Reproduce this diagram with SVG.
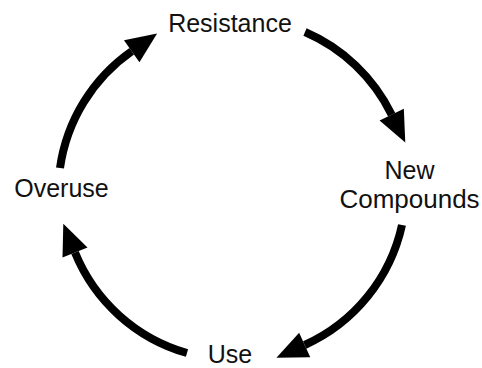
<svg xmlns="http://www.w3.org/2000/svg" width="482" height="368" viewBox="0 0 482 368">
<style>
.lbl{font-family:"Liberation Sans",Arial,Helvetica,sans-serif;font-size:25px;fill:#111;text-anchor:middle}
.arc{fill:none;stroke:#000;stroke-width:8;stroke-linecap:butt;marker-end:url(#head)}
</style>
<defs>
<marker id="head" markerUnits="userSpaceOnUse" viewBox="0 -14 32 28" refX="0" refY="0" markerWidth="32" markerHeight="28" orient="auto" overflow="visible">
<path d="M0,-13.5 L31,0 L0,13.5 Z" fill="#000"/>
</marker>
</defs>
<rect width="482" height="368" fill="#fff"/>
<g id="connectors">
<path class="arc" d="M305,32 A172,172 0 0 1 391.7,114.7"/>
<path class="arc" d="M402,225 A172,172 0 0 1 304.7,345"/>
<path class="arc" d="M187,353 A172,172 0 0 1 75,252.5"/>
<path class="arc" d="M60,168 A172,172 0 0 1 131.7,51.3"/>
</g>
<g id="resistance"><text class="lbl" x="230" y="32">Resistance</text></g>
<g id="new-compounds"><text class="lbl" x="409.5" y="179">New</text><text class="lbl" x="409.5" y="208" style="font-size:26px">Compounds</text></g>
<g id="use"><text class="lbl" x="230" y="363">Use</text></g>
<g id="overuse"><text class="lbl" x="61.5" y="196.5">Overuse</text></g>
</svg>
